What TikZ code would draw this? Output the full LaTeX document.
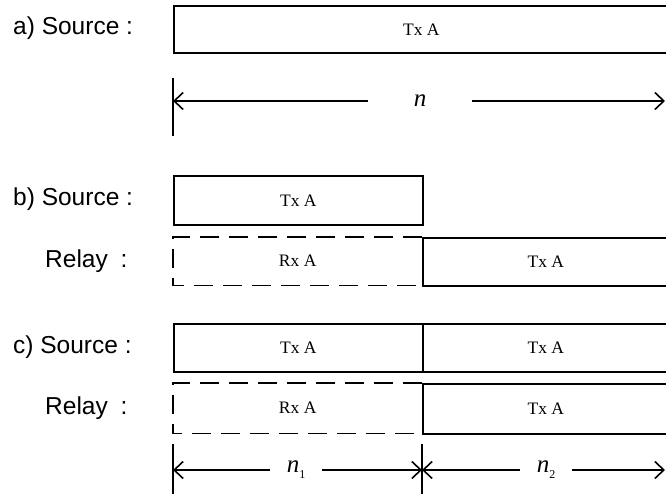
\documentclass[tikz,border=0pt]{standalone}
\usepackage{fontspec}
\setmainfont{Liberation Serif}
\newfontfamily\lblfont{Liberation Sans}
\usetikzlibrary{arrows.meta}
\begin{document}
\begin{tikzpicture}[x=1pt,y=-1pt,
  slot/.style={draw, line width=1.6pt, inner sep=0pt, anchor=north west,
    font=\fontsize{17.5}{17.5}\selectfont},
  hole/.style={inner sep=0pt, anchor=north west, font=\fontsize{17.5}{17.5}\selectfont},
  dashbox/.style={line width=1.6pt, dash pattern=on 19pt off 10pt},
  rowlabel/.style={anchor=west, inner sep=0pt, font=\lblfont\fontsize{24.5}{24.5}\selectfont},
  dimline/.style={line width=1.3pt, -{Straight Barb[length=9pt,width=17pt,line width=1.6pt]}},
  tick/.style={line width=1.3pt},
  dimlabel/.style={fill=white, inner ysep=2pt, font=\fontsize{25}{25}\selectfont}
]
\useasboundingbox (0,0) rectangle (666,494);
\clip (0,0) rectangle (666,494);

% row labels
\node[rowlabel] (la) at (13,28.5) {a) Source :};
\node[rowlabel] (lbs) at (13,199.5) {b) Source :};
\node[rowlabel] (lbr) at (45,261) {Relay\hspace{6pt} :};
\node[rowlabel] (lcs) at (13,347) {c) Source :};
\node[rowlabel] (lcr) at (45,408) {Relay\hspace{6pt} :};

% a) source
\node[slot, minimum width=495pt, minimum height=47pt] (aS) at (173,5) {Tx A};

% a) dimension
\coordinate (aT1) at (173,78);
\coordinate (aT2) at (173,136);
\coordinate (aL) at (173,101);
\coordinate (aR) at (665,101);
\draw[tick] (aT1) -- (aT2);
\node[dimlabel, inner xsep=46pt] (na) at (420,101) {\textit{n}};
\draw[dimline] (na.west) -- (aL);
\draw[dimline] (na.east) -- (aR);

% b) source and relay
\node[slot, minimum width=249pt, minimum height=49pt] (bS) at (173,175) {Tx A};
\node[hole, minimum width=249pt, minimum height=48pt] (bRx) at (173,237) {Rx A};
\draw[dashbox] (bRx.north east) -- (bRx.north west) -- (bRx.south west) -- (bRx.south east);
\node[slot, minimum width=246pt, minimum height=48pt] (bTx) at (422,237) {Tx A};

% c) source and relay
\node[slot, minimum width=249pt, minimum height=48pt] (cS1) at (173,323) {Tx A};
\node[slot, minimum width=246pt, minimum height=48pt] (cS2) at (422,323) {Tx A};
\node[hole, minimum width=249pt, minimum height=50pt] (cRx) at (173,383) {Rx A};
\draw[dashbox] (cRx.north east) -- (cRx.north west) -- (cRx.south west) -- (cRx.south east);
\node[slot, minimum width=246pt, minimum height=50pt] (cTx) at (422,383) {Tx A};

% c) dimension
\coordinate (cT1) at (173,444);
\coordinate (cT2) at (173,494);
\coordinate (cM1) at (422,444);
\coordinate (cM2) at (422,494);
\coordinate (cL) at (173,470);
\coordinate (cM) at (422,470);
\coordinate (cR) at (665,470);
\draw[tick] (cT1) -- (cT2);
\draw[tick] (cM1) -- (cM2);
\node[dimlabel, inner xsep=17pt] (n1) at (296,470) {\textit{n}\raisebox{-6pt}{\fontsize{12}{12}\selectfont 1}};
\node[dimlabel, inner xsep=17pt] (n2) at (546,470) {\textit{n}\raisebox{-6pt}{\fontsize{12}{12}\selectfont 2}};
\draw[dimline] (n1.west) -- (cL);
\draw[dimline] (n1.east) -- (cM);
\draw[dimline] (n2.west) -- (cM);
\draw[dimline] (n2.east) -- (cR);
\end{tikzpicture}
\end{document}
